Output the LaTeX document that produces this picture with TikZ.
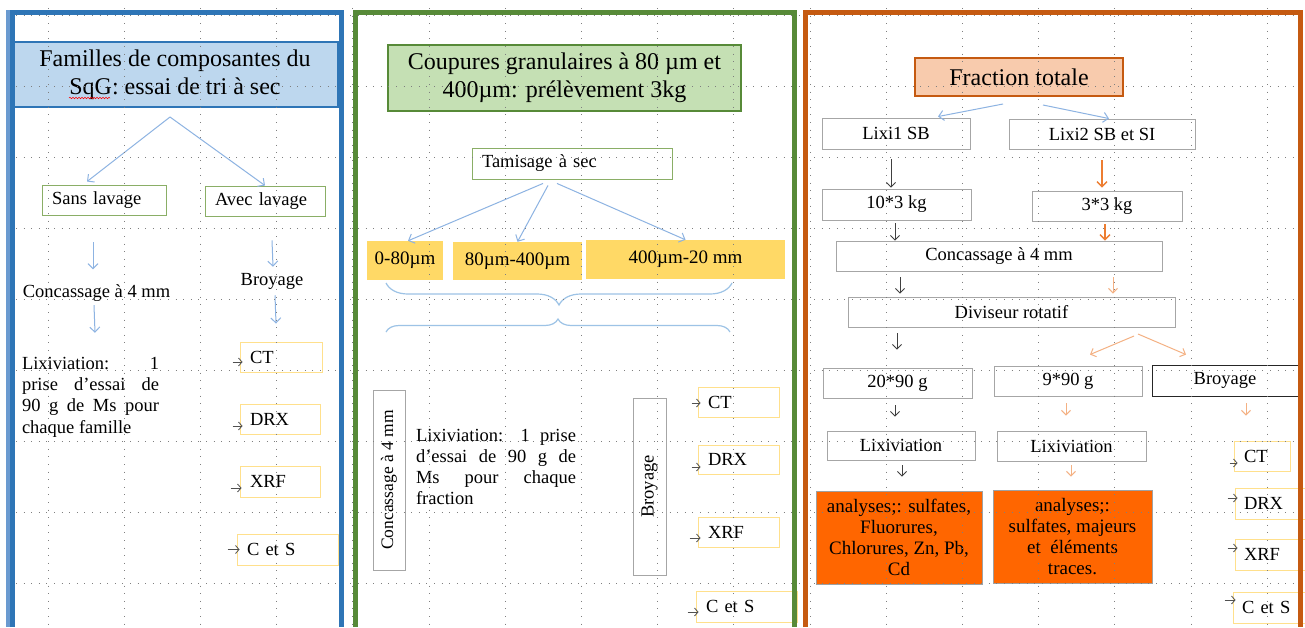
\documentclass[tikz,border=0pt]{standalone}
\usepackage{fontspec}
\setmainfont{Liberation Serif}
\usetikzlibrary{arrows.meta,decorations.pathreplacing,decorations.pathmorphing}
\definecolor{pblue}{HTML}{2E75B6}
\definecolor{pbluel}{HTML}{6A9AD0}
\definecolor{tblue}{HTML}{BDD7EE}
\definecolor{pgreen}{HTML}{578A38}
\definecolor{tgreen}{HTML}{C5E0B4}
\definecolor{porange}{HTML}{C55A11}
\definecolor{tor}{HTML}{F8CBAD}
\definecolor{yfill}{HTML}{FFD966}
\definecolor{ybord}{HTML}{FFE08C}
\definecolor{gbord}{HTML}{8AAE66}
\definecolor{boxgray}{HTML}{A6A6A6}
\definecolor{bblack}{HTML}{262626}
\definecolor{lblue}{HTML}{8DB3E2}
\definecolor{brcol}{HTML}{9DC3E6}
\definecolor{dgray}{HTML}{404040}
\definecolor{sgray}{HTML}{505050}
\definecolor{ostrong}{HTML}{ED7D31}
\definecolor{olight}{HTML}{F4B183}
\definecolor{orfill}{HTML}{FF6600}
\definecolor{anbord}{HTML}{A0A0A0}
\definecolor{gridc}{HTML}{7F7F7F}
\newcommand\myft{\fontsize{24}{28}\selectfont}
\newcommand\myfb{\fontsize{18.5}{21.3}\selectfont}
\newcommand\myfy{\fontsize{19}{21}\selectfont}
\newcommand\myfo{\fontsize{19}{20.8}\selectfont}
\newcommand\myfr{\fontsize{17.5}{20}\selectfont}
\begin{document}
\begin{tikzpicture}[x=1pt,y=-1pt,
  txt/.style={inner sep=0pt, font=\myfb},
  cbox/.style={draw=#1, line width=0.9pt, inner sep=0pt, align=center, font=\myfb},
  lbox/.style={draw=#1, line width=0.9pt, inner xsep=10pt, inner ysep=0pt, align=left, font=\myfb},
  ybox/.style={fill=yfill, inner sep=0pt, font=\myfy},
  barr/.style={draw=lblue, line width=1pt, -{Straight Barb[length=5pt,width=10pt]}},
  darr/.style={draw=dgray, line width=0.9pt, -{Straight Barb[length=4.5pt,width=9pt]}},
  oarr/.style={draw=ostrong, line width=1.3pt, -{Straight Barb[length=5pt,width=10pt]}},
  loarr/.style={draw=olight, line width=1pt, -{Straight Barb[length=4.5pt,width=9pt]}},
  sarr/.style={draw=sgray, line width=0.8pt, -{Straight Barb[length=3.5pt,width=8pt]}},
  brc/.style={draw=brcol, line width=1.2pt},
  gridl/.style={draw=gridc, line width=0.9pt, dash pattern=on 0.9pt off 6.7pt},
  pbord/.style={draw=#1, line width=5.5pt, line join=miter}
]
\useasboundingbox (0,0) rectangle (1305,627);
\fill[white] (0,0) rectangle (1305,627);

% ================= LEFT PANEL =================
\node[cbox=pblue, fill=tblue, line width=2pt, font=\myft, minimum width=326pt, minimum height=65pt] (ttl1) at (175,74.5) {Familles de composantes du\\SqG: essai de tri à sec};
\draw[red, line width=0.5pt, decorate, decoration={snake, amplitude=0.8pt, segment length=3pt}] (69,98) -- (110,98);
\node[lbox=gbord, text width=104pt, minimum height=30pt] (sans) at (104,200) {Sans lavage};
\node[lbox=gbord, text width=100pt, minimum height=30pt] (avec) at (265,201) {Avec lavage};
\node[txt] (conc1) at (96.5,293) {Concassage à 4 mm};
\node[txt, align=left] (lix1) at (90.5,397) {\makebox[137pt][s]{Lixiviation: 1}\\\makebox[137pt][s]{prise d’essai de}\\\makebox[137pt][s]{90 g de Ms pour}\\chaque famille};
\node[txt] (broy1) at (272,281) {Broyage};
\node[lbox=ybord, text width=62pt, minimum height=30pt] (ct1) at (281,357) {CT};
\node[lbox=ybord, text width=60pt, minimum height=30pt] (drx1) at (280,419) {DRX};
\node[lbox=ybord, text width=60pt, minimum height=31pt] (xrf1) at (280,481.5) {XRF};
\node[lbox=ybord, text width=81pt, minimum height=31pt] (cs1) at (287.5,549.5) {C et S};

\coordinate (tr1) at (170,117);
\draw[barr] (tr1) -- ([xshift=-17pt,yshift=3pt]sans.north);
\draw[barr] (tr1) -- (avec.north);
\draw[barr] ([xshift=-11pt,yshift=-27pt]sans.south) -- ([xshift=-3.5pt,yshift=15pt]conc1.north);
\draw[barr] ([xshift=-2.5pt,yshift=-3.5pt]conc1.south) -- ([xshift=4.5pt,yshift=24pt]lix1.north);
\draw[barr] ([xshift=7pt,yshift=-24pt]avec.south) -- ([xshift=1pt,yshift=6pt]broy1.north);
\draw[barr] ([xshift=3pt,yshift=-6pt]broy1.south) -- ([xshift=-5pt,yshift=18pt]ct1.north);
\draw[sarr] ([xshift=-7pt,yshift=-5pt]ct1.west) -- ([xshift=3pt,yshift=-5pt]ct1.west);
\draw[sarr] ([xshift=-7pt,yshift=-7pt]drx1.west) -- ([xshift=3pt,yshift=-7pt]drx1.west);
\draw[sarr] ([xshift=-9pt,yshift=-6.5pt]xrf1.west) -- ([xshift=2pt,yshift=-6.5pt]xrf1.west);
\draw[sarr] ([xshift=-9pt]cs1.west) -- ([xshift=3pt]cs1.west);

% ================= MIDDLE PANEL =================
\node[cbox=pgreen, fill=tgreen, line width=2pt, font=\myft, minimum width=353pt, minimum height=66pt] (ttl2) at (564.5,78) {Coupures granulaires à 80 µm et\\400µm: prélèvement 3kg};
\node[lbox=gbord, text width=180pt, minimum height=31pt] (tam) at (572,163.5) {Tamisage à sec};
\node[ybox, minimum width=76pt, minimum height=39pt] (y1) at (405,260.5) {0-80µm};
\node[ybox, minimum width=129pt, minimum height=38pt] (y2) at (517.5,261) {80µm-400µm};
\node[ybox, minimum width=199pt, minimum height=39pt] (y3) at (685.5,259.5) {400µm-20 mm};
\draw[barr] ([xshift=-29pt,yshift=-4pt]tam.south) -- ([xshift=3pt]y1.north);
\draw[barr] ([xshift=-24pt,yshift=-6pt]tam.south) -- (y2.north);
\draw[barr] ([xshift=-15pt,yshift=-4pt]tam.south) -- (y3.north);
\draw[brc, decorate, decoration={brace, amplitude=22pt}] (732,283) -- (386,283);
\draw[brc, decorate, decoration={brace, amplitude=13pt}] (386,332) -- (730,332);

\node[cbox=boxgray, rotate=90, font=\myfr, minimum width=180pt, minimum height=32pt] (conc2) at (389,480) {Concassage à 4 mm};
\node[txt, align=left] (lix2) at (496,467) {\makebox[160pt][s]{Lixiviation: 1 prise}\\\makebox[160pt][s]{d’essai de 90 g de}\\\makebox[160pt][s]{Ms pour chaque}\\fraction};
\node[cbox=boxgray, rotate=90, minimum width=177pt, minimum height=33pt] (broy2) at (649.5,486.5) {Broyage};
\node[lbox=ybord, text width=61pt, minimum height=30pt] (ct2) at (738.5,402) {CT};
\node[lbox=ybord, text width=61pt, minimum height=29pt] (drx2) at (738.5,459.5) {DRX};
\node[lbox=ybord, text width=61pt, minimum height=30pt] (xrf2) at (738.5,532) {XRF};
\node[lbox=ybord, text width=81pt, minimum height=31pt] (cs2) at (746.5,606.5) {C et S};
\draw[sarr] ([xshift=-6pt,yshift=-1pt]ct2.west) -- ([xshift=3pt,yshift=-1pt]ct2.west);
\draw[sarr] ([xshift=-6pt,yshift=-7.5pt]drx2.west) -- ([xshift=3pt,yshift=-7.5pt]drx2.west);
\draw[sarr] ([xshift=-8pt,yshift=-6pt]xrf2.west) -- ([xshift=3pt,yshift=-6pt]xrf2.west);
\draw[sarr] ([xshift=-8pt,yshift=-5.5pt]cs2.west) -- ([xshift=3pt,yshift=-5.5pt]cs2.west);

% ================= RIGHT PANEL =================
\node[cbox=porange, fill=tor, line width=2pt, font=\myft, minimum width=208pt, minimum height=38pt] (ft) at (1019,77) {Fraction totale};
\node[cbox=boxgray, minimum width=148pt, minimum height=31pt] (lixi1) at (896,133.5) {Lixi1 SB};
\node[cbox=boxgray, minimum width=186pt, minimum height=30pt] (lixi2) at (1102,134) {Lixi2 SB et SI};
\node[cbox=boxgray, minimum width=149pt, minimum height=31pt] (k10) at (896.5,204.5) {10*3 kg};
\node[cbox=boxgray, minimum width=150pt, minimum height=30pt] (k3) at (1107,206) {3*3 kg};
\node[cbox=boxgray, minimum width=326pt, minimum height=30pt] (conc3) at (999,256) {Concassage à 4 mm};
\node[cbox=boxgray, minimum width=327pt, minimum height=30pt] (divr) at (1011.5,312) {Diviseur rotatif};
\node[cbox=boxgray, minimum width=149pt, minimum height=30pt] (b20) at (897.5,383) {20*90 g};
\node[cbox=boxgray, minimum width=148pt, minimum height=30pt] (nine) at (1068,381) {9*90 g};
\node[cbox=bblack, minimum width=146pt, minimum height=31pt] (broy3) at (1225,380.5) {Broyage};
\node[cbox=boxgray, minimum width=148pt, minimum height=29pt] (lixL) at (901,445.5) {Lixiviation};
\node[cbox=boxgray, minimum width=149pt, minimum height=30pt] (lixM) at (1071.5,446) {Lixiviation};
\node[cbox=anbord, fill=orfill, font=\myfo, minimum width=166pt, minimum height=93pt] (anL) at (899,537.5) {analyses;: sulfates,\\Fluorures,\\Chlorures, Zn, Pb,\\Cd};
\node[cbox=anbord, fill=orfill, font=\myfo, minimum width=159pt, minimum height=93pt] (anM) at (1072.5,536.5) {analyses;:\\sulfates, majeurs\\et\ \ éléments\\traces.};
\node[lbox=ybord, text width=36pt, minimum height=30pt] (ct3) at (1262,456) {CT};
\node[lbox=ybord, text width=55pt, inner xsep=9pt, minimum height=31pt] (drx3) at (1271.5,503.5) {DRX};
\node[lbox=ybord, text width=55pt, inner xsep=9pt, minimum height=31pt] (xrf3) at (1271.5,554.5) {XRF};
\node[lbox=ybord, text width=57pt, inner xsep=9pt, minimum height=31pt] (cs3) at (1270.5,607.5) {C et S};

\draw[barr] ([xshift=-16pt,yshift=-7pt]ft.south) -- ([xshift=42pt,yshift=1pt]lixi1.north);
\draw[barr] ([xshift=24pt,yshift=-8pt]ft.south) -- ([xshift=7pt]lixi2.north);
\coordinate (d1) at (891,159);  \draw[darr, shorten >=1pt] (d1) -- (d1 |- k10.north);
\coordinate (o1) at (1102,160); \draw[oarr, shorten >=3pt] (o1) -- (o1 |- k3.north);
\coordinate (d2) at (895,223);  \draw[darr] (d2) -- (d2 |- conc3.north);
\coordinate (o2) at (1105,224); \draw[oarr] (o2) -- (o2 |- conc3.north);
\coordinate (d3) at (900,277);  \draw[darr, shorten >=3pt] (d3) -- (d3 |- divr.north);
\coordinate (o3) at (1113,277); \draw[loarr, shorten >=3pt] (o3) -- (o3 |- divr.north);
\coordinate (d4) at (897,333);  \draw[darr, shorten >=18pt] (d4) -- (d4 |- b20.north);
\coordinate (o4) at (1134,336); \draw[loarr] (o4) -- ([xshift=22pt,yshift=11pt]nine.north);
\coordinate (o4b) at (1138,334); \draw[loarr] (o4b) -- ([xshift=-39pt,yshift=10pt]broy3.north);
\coordinate (d5) at (895,405);  \draw[darr, shorten >=14pt] (d5) -- (d5 |- lixL.north);
\coordinate (o5) at (1066,403); \draw[loarr, shorten >=15pt] (o5) -- (o5 |- lixM.north);
\coordinate (o6) at (1246,403); \draw[loarr, shorten >=25pt] (o6) -- (o6 |- ct3.north);
\coordinate (d6) at (902,465);  \draw[darr, shorten >=14pt] (d6) -- (d6 |- anL.north);
\coordinate (o7) at (1071,465); \draw[loarr, shorten >=13pt] (o7) -- (o7 |- anM.north);
\draw[sarr] ([xshift=-4pt,yshift=-7pt]ct3.west) -- ([xshift=4pt,yshift=-7pt]ct3.west);
\draw[sarr] ([xshift=-7pt,yshift=5.5pt]drx3.west) -- ([xshift=3pt,yshift=5.5pt]drx3.west);
\draw[sarr] ([xshift=-7pt,yshift=6.5pt]xrf3.west) -- ([xshift=3pt,yshift=6.5pt]xrf3.west);
\draw[sarr] ([xshift=-8pt,yshift=7.5pt]cs3.west) -- ([xshift=3pt,yshift=7.5pt]cs3.west);

% ================= GRID =================
\foreach \i in {0,...,16} \draw[gridl] ({48+76.2*\i},8) -- ({48+76.2*\i},627);
\foreach \j in {0,...,8} \draw[gridl] (16,{15+71*\j}) -- (1298,{15+71*\j});

% ================= PANEL BORDERS =================
\draw[draw=pbluel, line width=4pt] (8,10) -- (8,627);
\draw[pbord=pblue] (12.5,627) -- (12.5,12.5) -- (341.5,12.5) -- (341.5,627);
\draw[pbord=pgreen] (355.5,627) -- (355.5,12.5) -- (794.5,12.5) -- (794.5,627);
\draw[pbord=porange] (805.5,627) -- (805.5,12.5) -- (1300.5,12.5) -- (1300.5,627);
\end{tikzpicture}
\end{document}
